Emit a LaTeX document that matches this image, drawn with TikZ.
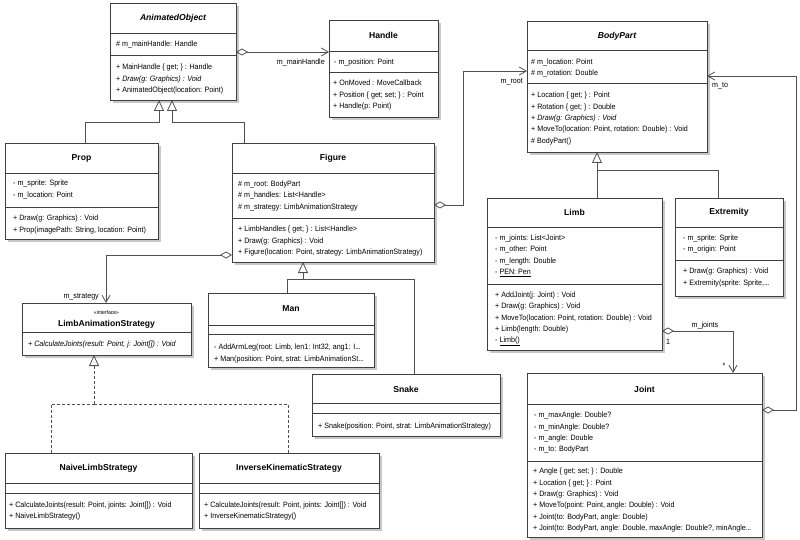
\documentclass[tikz,border=0pt]{standalone}
\usepackage{fontspec}
\setmainfont{Liberation Sans}
\newfontfamily\umlf{Liberation Sans}[FakeStretch=0.92]
\usetikzlibrary{arrows.meta,calc}
\definecolor{boxc}{HTML}{404040}
\definecolor{linec}{HTML}{505050}
\newcommand{\tdots}{.\kern-0.3pt.\kern-0.3pt.}
\tikzset{
  clsbox/.style={draw=boxc, fill=white, line width=0.8pt, inner sep=0pt, outer sep=0pt},
  shadowc/.style={fill=black!22},
  sepline/.style={draw=boxc, line width=0.8pt},
  ttl/.style={font=\fontsize{8.6}{10}\selectfont\bfseries, inner sep=0pt},
  stereo/.style={font=\umlf\fontsize{5.5}{6}\selectfont, inner sep=0pt},
  mem/.style={font=\umlf\fontsize{7.75}{9}\selectfont, inner sep=0pt, text=black},
  lbl/.style={font=\umlf\fontsize{7.75}{9}\selectfont, inner sep=0pt},
  conn/.style={draw=linec, line width=0.8pt},
  assoc/.style={conn, {Diamond[open,length=12pt,width=7pt]}-{Straight Barb[length=7pt,width=8pt]}},
  inh/.style={conn, -{Triangle[open,length=11pt,width=10pt]}},
  real/.style={conn, dash pattern=on 3pt off 2pt, -{Triangle[open,length=11pt,width=10pt]}},
  realb/.style={conn, dash pattern=on 3pt off 2pt},
}
\newcommand{\umlbox}[5]{%
  \fill[shadowc] ({#2+3},{#3+3}) rectangle ({#4+3},{#5+3});
  \node[clsbox, anchor=north west, minimum width={(#4-#2)*1pt}, minimum height={(#5-#3)*1pt}] (#1) at (#2,#3) {};}
\newcommand{\umlsep}[2]{\draw[sepline] (#1.west |- 0,#2) -- (#1.east |- 0,#2);}
\newcommand{\umllines}[4]{\foreach \mytxt [count=\myi from 0] in {#4} {\node[mem, anchor=base west] (#1\myi) at ({#2},{#3+2.9+11.3*\myi}) {\mytxt};}}
\begin{document}
\begin{tikzpicture}[x=1pt,y=-1pt]
\fill[white] (0,0) rectangle (800,540);
\useasboundingbox (0,0) rectangle (800,540);

% ---------- classes ----------
% AnimatedObject
\umlbox{ao}{110}{3}{236}{100}
\umlsep{ao}{33}\umlsep{ao}{55}
\node[ttl] (aoT) at (ao.north |- 0,18.5) {\itshape AnimatedObject};
\umllines{aoA}{116}{44}{{\# m\_mainHandle: Handle}}
\umllines{aoM}{116}{67}{{+ MainHandle \{ get; \} : Handle},{+ \textit{Draw(g: Graphics) : Void}},{+ AnimatedObject(location: Point)}}

% Handle
\umlbox{hd}{329}{20}{438}{117}
\umlsep{hd}{51}\umlsep{hd}{72}
\node[ttl] (hdT) at (hd.north |- 0,35.5) {Handle};
\umllines{hdA}{334}{62}{{- m\_position: Point}}
\umllines{hdM}{333}{83}{{+ OnMoved : MoveCallback},{+ Position \{ get; set; \} : Point},{+ Handle(p: Point)}}

% BodyPart
\umlbox{bp}{527}{21}{707}{152}
\umlsep{bp}{50}\umlsep{bp}{83}
\node[ttl] (bpT) at (bp.north |- 0,36) {\itshape BodyPart};
\umllines{bpA}{531}{61.7}{{\# m\_location: Point},{\# m\_rotation: Double}}
\umllines{bpM}{531}{95}{{+ Location \{ get; \} : Point},{+ Rotation \{ get; \} : Double},{+ \textit{Draw(g: Graphics) : Void}},{+ MoveTo(location: Point, rotation: Double) : Void},{\# BodyPart()}}

% Prop
\umlbox{pr}{5}{143}{158}{239}
\umlsep{pr}{173}\umlsep{pr}{207}
\node[ttl] (prT) at (pr.north |- 0,158) {Prop};
\umllines{prA}{13}{183}{{- m\_sprite: Sprite},{- m\_location: Point}}
\umllines{prM}{13}{218}{{+ Draw(g: Graphics) : Void},{+ Prop(imagePath: String, location: Point)}}

% Figure
\umlbox{fg}{232}{143}{434}{262}
\umlsep{fg}{173}\umlsep{fg}{218}
\node[ttl] (fgT) at (fg.north |- 0,158) {Figure};
\umllines{fgA}{238}{183.5}{{\# m\_root: BodyPart},{\# m\_handles: List<Handle>},{\# m\_strategy: LimbAnimationStrategy}}
\umllines{fgM}{238}{229}{{+ LimbHandles \{ get; \} : List<Handle>},{+ Draw(g: Graphics) : Void},{+ Figure(location: Point, strategy: LimbAnimationStrategy)}}

% LimbAnimationStrategy
\umlbox{las}{22}{303}{191}{355}
\umlsep{las}{332}
\node[stereo] (lasS) at (las.north |- 0,312.7) {«interface»};
\node[ttl] (lasT) at (las.north |- 0,324) {LimbAnimationStrategy};
\umllines{lasM}{28}{344}{{\textit{+ CalculateJoints(result: Point, j: Joint[]) : Void}}}

% Man
\umlbox{mn}{208}{293}{374}{367}
\umlsep{mn}{325}\umlsep{mn}{334}
\node[ttl] (mnT) at (mn.north |- 0,309) {Man};
\umllines{mnM}{214}{347}{{- AddArmLeg(root: Limb, len1: Int32, ang1: I\tdots},{+ Man(position: Point, strat: LimbAnimationSt\tdots}}

% Snake
\umlbox{sn}{312}{374}{500}{436}
\umlsep{sn}{403}\umlsep{sn}{413}
\node[ttl] (snT) at (sn.north |- 0,389) {Snake};
\umllines{snM}{318}{426}{{+ Snake(position: Point, strat: LimbAnimationStrategy)}}

% Limb
\umlbox{lb}{487}{198}{662}{350}
\umlsep{lb}{227}\umlsep{lb}{284}
\node[ttl] (lbT) at (lb.north |- 0,212.5) {Limb};
\umllines{lbA}{495}{237.5}{{- m\_joints: List<Joint>},{- m\_other: Point},{- m\_length: Double},{- \underline{PEN: Pen}}}
\umllines{lbM}{495}{294.5}{{+ AddJoint(j: Joint) : Void},{+ Draw(g: Graphics) : Void},{+ MoveTo(location: Point, rotation: Double) : Void},{+ Limb(length: Double)},{- \underline{Limb()}}}

% Extremity
\umlbox{ex}{675}{198}{783}{296}
\umlsep{ex}{227}\umlsep{ex}{260}
\node[ttl] (exT) at (ex.north |- 0,212.5) {Extremity};
\umllines{exA}{683}{237.5}{{- m\_sprite: Sprite},{- m\_origin: Point}}
\umllines{exM}{683}{271}{{+ Draw(g: Graphics) : Void},{+ Extremity(sprite: Sprite,\tdots}}

% Joint
\umlbox{jt}{527}{373}{762}{537}
\umlsep{jt}{404}\umlsep{jt}{461}
\node[ttl] (jtT) at (jt.north |- 0,389) {Joint};
\umllines{jtA}{534}{415}{{- m\_maxAngle: Double?},{- m\_minAngle: Double?},{- m\_angle: Double},{- m\_to: BodyPart}}
\umllines{jtM}{533}{471}{{+ Angle \{ get; set; \} : Double},{+ Location \{ get; \} : Point},{+ Draw(g: Graphics) : Void},{+ MoveTo(point: Point, angle: Double) : Void},{+ Joint(to: BodyPart, angle: Double)},{+ Joint(to: BodyPart, angle: Double, maxAngle: Double?, minAngle\tdots}}

% NaiveLimbStrategy
\umlbox{nv}{5}{453}{192}{528}
\umlsep{nv}{483}\umlsep{nv}{493}
\node[ttl] (nvT) at (nv.north |- 0,468) {NaiveLimbStrategy};
\umllines{nvM}{9}{504.5}{{+ CalculateJoints(result: Point, joints: Joint[]) : Void},{+ NaiveLimbStrategy()}}

% InverseKinematicStrategy
\umlbox{ik}{199}{453}{379}{528}
\umlsep{ik}{483}\umlsep{ik}{493}
\node[ttl] (ikT) at (ik.north |- 0,468) {InverseKinematicStrategy};
\umllines{ikM}{204}{504.5}{{+ CalculateJoints(result: Point, joints: Joint[]) : Void},{+ InverseKinematicStrategy()}}

% ---------- generalisations ----------
\draw[inh] ([xshift=80]pr.north west) -- ++(0,-21) -| ([xshift=49]ao.south west);
\draw[inh] ([xshift=12]fg.north west) -- ++(0,-21) -| ([xshift=62]ao.south west);

\coordinate (jF) at (303,279);
\draw[inh] (jF) -- (jF |- fg.south);
\draw[conn] ([xshift=79]mn.north west) |- (jF);
\draw[conn] ([xshift=102]sn.north west) |- (jF);

\coordinate (jB) at (597,170);
\draw[inh] (jB) -- (jB |- bp.south);
\draw[conn] (lb.north -| jB) -- (jB);
\draw[conn] ([xshift=43]ex.north west) |- (jB);

\coordinate (jL) at (94,404);
\draw[real] (jL) -- (jL |- las.south);
\draw[realb] ([xshift=46]nv.north west) |- (jL);
\draw[realb] ([xshift=89]ik.north west) |- (jL);

% ---------- associations ----------
\coordinate (yAH) at (0,52);
\draw[assoc] (ao.east |- yAH) -- (hd.west |- yAH);
\node[lbl, anchor=east] (lMH) at (325,62) {m\_mainHandle};

\coordinate (yR) at (0,205);
\coordinate (cR) at (463,71);
\draw[assoc] (fg.east |- yR) -| (cR) -- (bp.west |- cR);
\node[lbl, anchor=east] (lR) at (523,82) {m\_root};

\coordinate (yT) at (0,410);
\coordinate (cT) at (796,76);
\draw[assoc] (jt.east |- yT) -| (cT) -- (bp.east |- cT);
\node[lbl, anchor=west] (lT) at (712,86) {m\_to};

\coordinate (cJ) at (733,331);
\draw[assoc] (lb.east |- cJ) -- (cJ) -- (cJ |- jt.north);
\node[lbl] (lJ) at (705,325) {m\_joints};
\node[lbl] (lJ1) at (668,342) {1};
\node[lbl] (lJs) at (724,366) {*};

\coordinate (cS) at (106,255);
\draw[assoc] (fg.west |- cS) -- (cS) -- (cS |- las.north);
\node[lbl, anchor=east] (lS) at (99,297) {m\_strategy};
\end{tikzpicture}
\end{document}
